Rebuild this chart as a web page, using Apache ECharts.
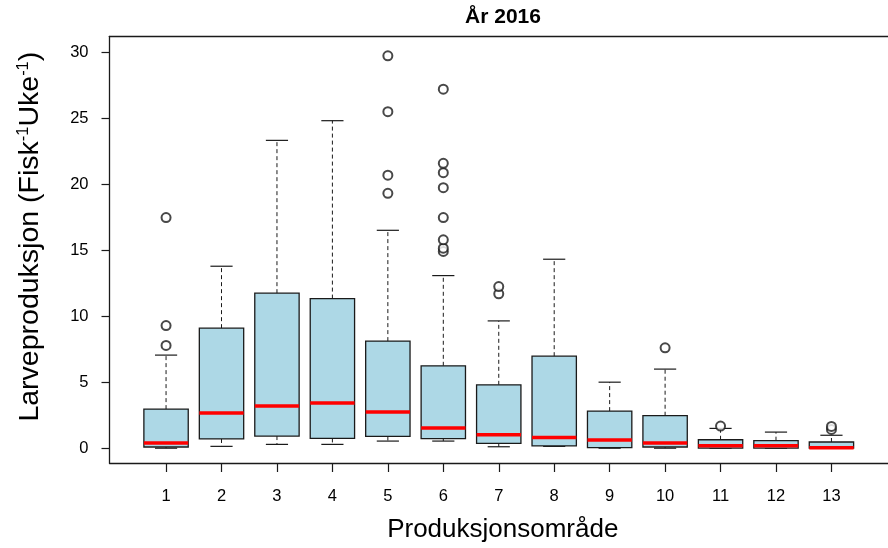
<!DOCTYPE html>
<html>
<head>
<meta charset="utf-8">
<script src="https://cdn.jsdelivr.net/npm/echarts@6/dist/echarts.min.js"></script>
<style>
  html, body { margin: 0; padding: 0; background: #ffffff; }
  #chart { width: 888px; height: 548px; }
</style>
</head>
<body>
<div id="chart"></div>
<script>
// Larval production per production area, 2016
const areas = [1, 2, 3, 4, 5, 6, 7, 8, 9, 10, 11, 12, 13];
const whiskerLow  = [0.00, 0.14, 0.29, 0.29, 0.54, 0.54, 0.11, 0.14, 0.00, 0.00, 0.00, 0.00, 0.00];
const quartile1   = [0.09, 0.70, 0.92, 0.74, 0.89, 0.72, 0.36, 0.17, 0.04, 0.09, 0.01, 0.01, 0.00];
const medians     = [0.39, 2.66, 3.19, 3.42, 2.74, 1.53, 1.02, 0.82, 0.62, 0.39, 0.19, 0.18, 0.03];
const quartile3   = [2.96, 9.09, 11.74, 11.33, 8.11, 6.24, 4.80, 6.97, 2.81, 2.46, 0.64, 0.57, 0.47];
const whiskerHigh = [7.05, 13.78, 23.31, 24.80, 16.50, 13.07, 9.64, 14.31, 5.00, 5.99, 1.50, 1.22, 0.98];
const outliers = [
  [7.78, 9.29, 17.46],
  [],
  [],
  [],
  [19.30, 20.67, 25.48, 29.71],
  [14.90, 15.15, 15.78, 17.46, 19.73, 20.86, 21.57, 27.19],
  [11.69, 12.24],
  [],
  [],
  [7.60],
  [1.68],
  [],
  [1.42, 1.65]
];
const yTicks = [0, 5, 10, 15, 20, 25, 30];

const FONT = '"Liberation Sans", Arial, sans-serif';

const boxData = areas.map((a, i) => [a, whiskerLow[i], quartile1[i], medians[i], quartile3[i], whiskerHigh[i]]);
const outlierData = [];
areas.forEach((a, i) => outliers[i].forEach(v => outlierData.push([a, v])));

// Draws one box: dashed whiskers with caps, filled box, thick red median
function renderBox(params, api) {
  const x = api.value(0);
  const lo = api.coord([x, api.value(1)]);
  const b1 = api.coord([x, api.value(2)]);
  const md = api.coord([x, api.value(3)]);
  const b3 = api.coord([x, api.value(4)]);
  const hi = api.coord([x, api.value(5)]);
  const halfBox = api.size([0.8, 0])[0] / 2;
  const halfCap = halfBox / 2;
  const cx = lo[0];
  const ink = '#1a1a1a';
  const dashed = { stroke: ink, lineWidth: 1, lineDash: [4, 3] };
  const solid = { stroke: ink, lineWidth: 1.2 };
  return {
    type: 'group',
    children: [
      { type: 'line', shape: { x1: cx, y1: b3[1], x2: cx, y2: hi[1] }, style: dashed },
      { type: 'line', shape: { x1: cx, y1: b1[1], x2: cx, y2: lo[1] }, style: dashed },
      { type: 'line', shape: { x1: cx - halfCap, y1: hi[1], x2: cx + halfCap, y2: hi[1] }, style: solid },
      { type: 'line', shape: { x1: cx - halfCap, y1: lo[1], x2: cx + halfCap, y2: lo[1] }, style: solid },
      {
        type: 'rect',
        shape: { x: cx - halfBox, y: b3[1], width: 2 * halfBox, height: b1[1] - b3[1] },
        style: { fill: '#ADD8E6', stroke: ink, lineWidth: 1.3 }
      },
      { type: 'line', shape: { x1: cx - halfBox, y1: md[1], x2: cx + halfBox, y2: md[1] }, style: { stroke: '#FF0000', lineWidth: 3.5 } }
    ]
  };
}

const chart = echarts.init(document.getElementById('chart'), null, { renderer: 'canvas' });

chart.setOption({
  animation: false,
  backgroundColor: '#ffffff',
  textStyle: { fontFamily: FONT },
  graphic: [{
    type: 'text',
    x: 503,
    y: 17,
    style: {
      text: 'År 2016',
      font: 'bold 21px ' + FONT,
      fill: '#000',
      align: 'center',
      verticalAlign: 'middle'
    }
  }],
  grid: { left: 109.5, right: -9.3, top: 36.3, bottom: 84.7 },
  xAxis: [{
    type: 'value',
    min: -0.02,
    max: 14.02,
    position: 'bottom',
    splitLine: { show: false },
    axisLine: { show: true, onZero: false, lineStyle: { color: '#1a1a1a', width: 1.3 } },
    axisTick: { show: true, customValues: areas, length: 9, lineStyle: { color: '#1a1a1a', width: 1.2 } },
    axisLabel: { customValues: areas, fontSize: 16.5, color: '#000', margin: 25, fontFamily: FONT },
    name: 'Produksjonsområde',
    nameLocation: 'middle',
    nameGap: 54,
    nameTextStyle: { fontSize: 26, color: '#000', fontFamily: FONT, padding: [0, 0, 0, 8] }
  }, {
    type: 'value',
    min: -0.02,
    max: 14.02,
    position: 'top',
    splitLine: { show: false },
    axisLine: { show: true, onZero: false, lineStyle: { color: '#1a1a1a', width: 1.3 } },
    axisTick: { show: false },
    axisLabel: { show: false }
  }],
  yAxis: {
    type: 'value',
    min: -1.12,
    max: 31.19,
    splitLine: { show: false },
    axisLine: { show: true, onZero: false, lineStyle: { color: '#1a1a1a', width: 1.3 } },
    axisTick: { show: true, customValues: yTicks, length: 8, lineStyle: { color: '#1a1a1a', width: 1.2 } },
    axisLabel: { customValues: yTicks, fontSize: 16.5, color: '#000', margin: 21, fontFamily: FONT },
    name: '{b|Larveproduksjon (Fisk}{s|-1}{a|Uke}{s|-1}{a|)}',
    nameLocation: 'middle',
    nameGap: 63,
    nameTextStyle: {
      color: '#000',
      fontFamily: FONT,
      rich: {
        b: { fontSize: 28.5, color: '#000', fontFamily: FONT, lineHeight: 32, padding: [0, 0, 0, 26] },
        a: { fontSize: 28.5, color: '#000', fontFamily: FONT, lineHeight: 32 },
        s: { fontSize: 16.5, color: '#000', fontFamily: FONT, verticalAlign: 'top', lineHeight: 32 }
      }
    }
  },
  series: [{
    type: 'custom',
    renderItem: renderBox,
    data: boxData,
    encode: { x: 0, y: [1, 2, 3, 4, 5] },
    clip: false,
    z: 2
  }, {
    type: 'scatter',
    data: outlierData,
    symbol: 'emptyCircle',
    symbolSize: 9,
    itemStyle: { color: '#1a1a1a', borderColor: '#333333', borderWidth: 1 },
    z: 3
  }]
});
</script>
</body>
</html>
